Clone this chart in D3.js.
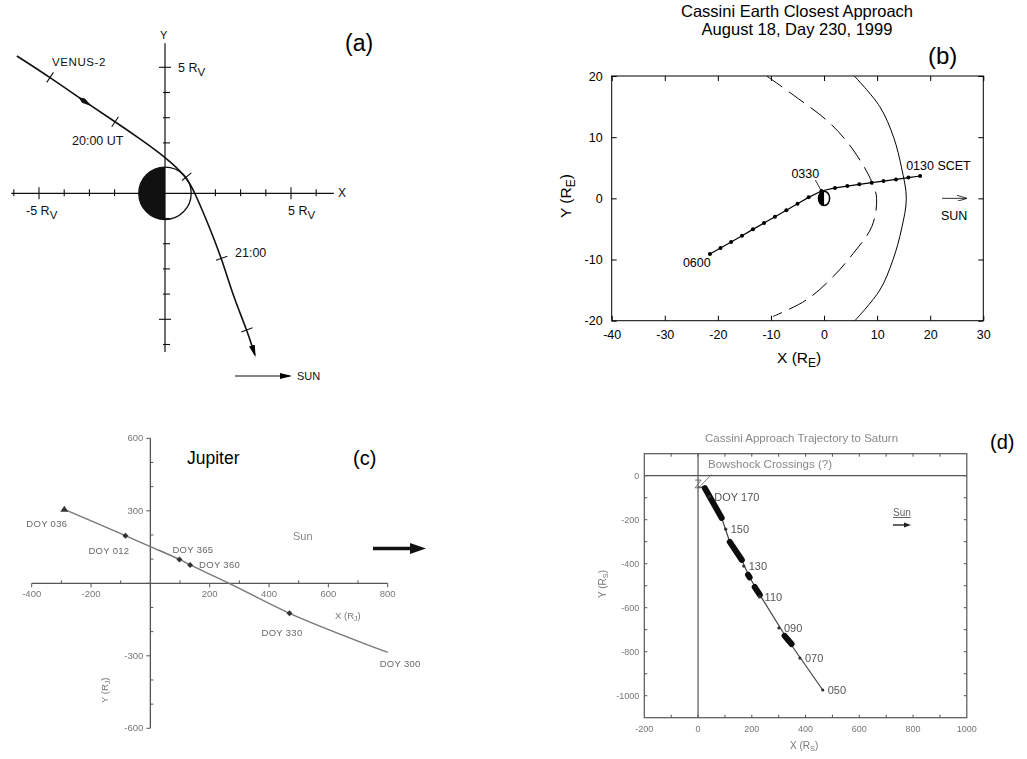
<!DOCTYPE html>
<html>
<head>
<meta charset="utf-8">
<script src="https://cdn.jsdelivr.net/npm/d3@7"></script>
<style>
body { margin: 0; background: #fff; }
svg { display: block; font-family: "Liberation Sans", Arial, sans-serif; }
</style>
</head>
<body>
<svg id="fig" width="1027" height="759"></svg>
<script>
// ---------- (a) Venus-2 flyby, units of R_V
var venusX = [-5.88, -4.56, -3.17, -1.98, -1.0, 0, 0.86, 1.19, 1.65, 2.25, 2.71, 3.25, 3.57];
var venusY = [5.45, 4.6, 3.63, 2.84, 2.17, 1.45, 0.66, 0, -1.06, -2.58, -4.1, -5.42, -6.42];
var venusMarkIdx = [1, 3, 6, 9, 11];
var venusArrowIdx = 2;
var venusXTicks = [-6, -5, -4, -3, -2, 2, 3, 4, 5, 6];
var venusYTicks = [-6, -5, -4, -3, -2, -1, 2, 3, 4, 5];

// ---------- (b) Cassini Earth flyby, units of R_E
var earthTimes = ["0130", "0145", "0200", "0215", "0230", "0245", "0300", "0315", "0330",
  "0345", "0400", "0415", "0430", "0445", "0500", "0515", "0530", "0545", "0600"];
var earthX = [18.1, 15.9, 13.55, 11.2, 8.97, 6.64, 4.38, 2.06, -0.5,
  -2.9, -5.0, -7.1, -9.24, -11.3, -13.4, -15.45, -17.5, -19.5, -21.5];
var earthY = [3.65, 3.4, 3.1, 2.83, 2.56, 2.29, 2.0, 1.7, 1.2,
  0.16, -0.87, -1.96, -3.0, -4.03, -5.07, -6.1, -7.14, -8.12, -9.1];
var bowShockX = [5.8, 10.5, 13.0, 14.6, 15.5, 14.6, 13.1, 10.5, 5.7];
var bowShockY = [-20, -15, -10, -5, 0, 5, 10, 15, 20];
var mpauseX = [-10.8, -5.8, 1.1, 5.5, 9.0, 9.9, 9.0, 5.5, 1.7, -3.3, -9.6];
var mpauseY = [20, 16.9, 12.3, 7.9, 2.7, 0, -4.6, -9, -12.8, -16.6, -19.3];
var earthXTicks = [-40, -30, -20, -10, 0, 10, 20, 30];
var earthYTicks = [-20, -10, 0, 10, 20];

// ---------- (c) Jupiter, units of R_J
var jupX = [-290, -84, 0, 98, 134, 266, 469, 800];
var jupY = [306, 197, 152, 99, 76, 0, -124, -286];
var jupDoy = ["DOY 036", "DOY 012", "", "DOY 365", "DOY 360", "", "DOY 330", "DOY 300"];
var jupXLabels = [-400, -200, 200, 400, 600, 800];
var jupYLabels = [600, 300, -300, -600];

// ---------- (d) Saturn approach, units of R_S
var satX = [0, 25, 88, 118, 163, 189, 230, 334, 464];
var satY = [-50, -56, -192, -301, -383, -456, -542, -747, -974];
var satDense = [[[25, -56], [88, -192]], [[118, -301], [163, -383]], [[186, -450], [192, -462]],
  [[211, -506], [230, -542]], [[322, -728], [348, -765]]];
var satDoy = ["DOY 170", "150", "130", "110", "090", "070", "050"];
var satDoyX = [42, 103, 170, 229, 301, 379, 464];
var satDoyY = [-95, -243, -411, -551, -692, -829, -974];
var satXLabels = [-200, 0, 200, 400, 600, 800, 1000];
var satYLabels = [0, -200, -400, -600, -800, -1000];

var svg = d3.select("#fig");
var defs = svg.append("defs");
defs.append("filter").attr("id", "soft")
  .append("feGaussianBlur").attr("stdDeviation", 0.55);
defs.append("marker").attr("id", "headA")
  .attr("viewBox", "0 0 12 6").attr("refX", 10).attr("refY", 3)
  .attr("markerWidth", 12).attr("markerHeight", 6)
  .attr("markerUnits", "userSpaceOnUse").attr("orient", "auto")
  .append("path").attr("d", "M0,0L12,3L0,6Z").attr("fill", "#000");
defs.append("marker").attr("id", "headThin")
  .attr("viewBox", "0 0 10 6").attr("refX", 9).attr("refY", 3)
  .attr("markerWidth", 10).attr("markerHeight", 6)
  .attr("markerUnits", "userSpaceOnUse").attr("orient", "auto")
  .append("path").attr("d", "M0,0L10,3L0,6").attr("fill", "none").attr("stroke", "#000").attr("stroke-width", 0.8);

function pts(xs, ys) {
  return xs.map(function (x, i) { return [x, ys[i]]; });
}

// ================= panel (a)
var xa = d3.scaleLinear().domain([-6, 6]).range([13.8, 316.2]);
var ya = d3.scaleLinear().domain([-6, 6]).range([344.5, 42.1]);
var ga = svg.append("g");
var r1 = xa(1.04) - xa(0);
ga.append("circle").attr("cx", xa(0)).attr("cy", ya(0)).attr("r", r1)
  .attr("fill", "#fff").attr("stroke", "#111").attr("stroke-width", 1.3);
ga.append("path")
  .attr("d", "M" + xa(0) + "," + (ya(0) - r1) + "A" + r1 + "," + r1 + " 0 0 0 " + xa(0) + "," + (ya(0) + r1) + "Z")
  .attr("fill", "#111");
ga.append("line").attr("x1", xa(-6.1)).attr("x2", xa(6.7)).attr("y1", ya(0)).attr("y2", ya(0))
  .attr("stroke", "#111").attr("stroke-width", 1.2);
ga.append("line").attr("x1", xa(0)).attr("x2", xa(0)).attr("y1", ya(5.95)).attr("y2", ya(-6.3))
  .attr("stroke", "#111").attr("stroke-width", 1.2);
ga.selectAll(".xt").data(venusXTicks).enter().append("line")
  .attr("x1", function (d) { return xa(d); }).attr("x2", function (d) { return xa(d); })
  .attr("y1", function (d) { return ya(0) - (Math.abs(d) === 5 ? 6 : 4); })
  .attr("y2", function (d) { return ya(0) + (Math.abs(d) === 5 ? 6 : 3); })
  .attr("stroke", "#111").attr("stroke-width", 1.1);
ga.selectAll(".yt").data(venusYTicks).enter().append("line")
  .attr("y1", function (d) { return ya(d); }).attr("y2", function (d) { return ya(d); })
  .attr("x1", function (d) { return xa(0) - (Math.abs(d) === 5 ? 6 : 2); })
  .attr("x2", function (d) { return xa(0) + (Math.abs(d) === 5 ? 6 : 5); })
  .attr("stroke", "#111").attr("stroke-width", 1.1);

var vPts = pts(venusX, venusY);
ga.append("path").datum(vPts)
  .attr("d", d3.line().x(function (d) { return xa(d[0]); }).y(function (d) { return ya(d[1]); }).curve(d3.curveBasis))
  .attr("fill", "none").attr("stroke", "#111").attr("stroke-width", 1.6)
  .attr("marker-end", "url(#headA)");
function angleAt(i) {
  var a = vPts[i - 1], b = vPts[i + 1];
  return Math.atan2(ya(b[1]) - ya(a[1]), xa(b[0]) - xa(a[0])) * 180 / Math.PI;
}
ga.selectAll(".tm").data(venusMarkIdx).enter().append("line")
  .attr("x1", 0).attr("x2", 0).attr("y1", -6).attr("y2", 6)
  .attr("transform", function (i) { return "translate(" + xa(vPts[i][0]) + "," + ya(vPts[i][1]) + ") rotate(" + angleAt(i) + ")"; })
  .attr("stroke", "#111").attr("stroke-width", 1.1);
ga.append("path").attr("d", "M-8,0L-2,-2.6L8,0L-2,2.6Z").attr("fill", "#111")
  .attr("transform", "translate(" + xa(vPts[venusArrowIdx][0]) + "," + ya(vPts[venusArrowIdx][1]) + ") rotate(" + angleAt(venusArrowIdx) + ")");

var aText = ga.append("g").attr("fill", "#111").attr("font-size", 12.5);
aText.append("text").attr("x", 52).attr("y", 66).attr("letter-spacing", 0.6).attr("font-size", 11.5).text("VENUS-2");
aText.append("text").attr("x", 72).attr("y", 145).text("20:00 UT");
aText.append("text").attr("x", 235).attr("y", 257).text("21:00");
aText.append("text").attr("x", 160).attr("y", 39).attr("font-size", 11).text("Y");
aText.append("text").attr("x", 338).attr("y", 197).attr("font-size", 12).text("X");
function rvLabel(x, y, t) {
  var tx = aText.append("text").attr("x", x).attr("y", y);
  tx.append("tspan").text(t + " R");
  tx.append("tspan").attr("dy", 4).attr("font-size", 11.5).text("V");
}
rvLabel(178, 72, "5");
rvLabel(26, 215, "-5");
rvLabel(288, 215, "5");
ga.append("line").attr("x1", 235).attr("x2", 290).attr("y1", 376).attr("y2", 376)
  .attr("stroke", "#111").attr("stroke-width", 1.2).attr("marker-end", "url(#headA)");
aText.append("text").attr("x", 297).attr("y", 380).attr("font-size", 11).text("SUN");
svg.append("text").attr("x", 345).attr("y", 51).attr("font-size", 23).text("(a)");

// ================= panel (b)
var xb = d3.scaleLinear().domain([-40, 30]).range([611.7, 983.3]);
var yb = d3.scaleLinear().domain([-20, 20]).range([320.7, 76]);
var gb = svg.append("g");
gb.append("text").attr("x", 797).attr("y", 17).attr("text-anchor", "middle").attr("font-size", 16.5)
  .text("Cassini Earth Closest Approach");
gb.append("text").attr("x", 797).attr("y", 35).attr("text-anchor", "middle").attr("font-size", 16.5)
  .text("August 18, Day 230, 1999");
gb.append("text").attr("x", 928).attr("y", 64).attr("font-size", 24).text("(b)");

function styleAxis(g) {
  g.select(".domain").remove();
  g.selectAll("line").attr("stroke", "#000");
  g.selectAll("text").attr("font-size", 12.5).attr("fill", "#000")
    .attr("font-family", "Liberation Sans, Arial, sans-serif");
}
var fmt = function (d) { return String(d); };
gb.append("g").attr("transform", "translate(0," + yb(-20) + ")")
  .call(d3.axisBottom(xb).tickValues(earthXTicks).tickFormat(fmt).tickSizeInner(-5).tickSizeOuter(0).tickPadding(9))
  .call(styleAxis);
gb.append("g").attr("transform", "translate(0," + yb(20) + ")")
  .call(d3.axisTop(xb).tickValues(earthXTicks).tickFormat("").tickSizeInner(-5).tickSizeOuter(0))
  .call(styleAxis);
gb.append("g").attr("transform", "translate(" + xb(-40) + ",0)")
  .call(d3.axisLeft(yb).tickValues(earthYTicks).tickFormat(fmt).tickSizeInner(-5).tickSizeOuter(0).tickPadding(9))
  .call(styleAxis);
gb.append("g").attr("transform", "translate(" + xb(30) + ",0)")
  .call(d3.axisRight(yb).tickValues(earthYTicks).tickFormat("").tickSizeInner(-5).tickSizeOuter(0))
  .call(styleAxis);
gb.append("rect").attr("x", xb(-40)).attr("y", yb(20)).attr("width", xb(30) - xb(-40)).attr("height", yb(-20) - yb(20))
  .attr("fill", "none").attr("stroke", "#000").attr("stroke-width", 1);
defs.append("clipPath").attr("id", "clipB").append("rect")
  .attr("x", xb(-40)).attr("y", yb(20)).attr("width", xb(30) - xb(-40)).attr("height", yb(-20) - yb(20));

var lineB = d3.line().x(function (d) { return xb(d[0]); }).y(function (d) { return yb(d[1]); });
var gclip = gb.append("g").attr("clip-path", "url(#clipB)");
gclip.append("path").datum(pts(bowShockX, bowShockY)).attr("d", lineB.curve(d3.curveCatmullRom))
  .attr("fill", "none").attr("stroke", "#000").attr("stroke-width", 1);
gclip.append("path").datum(pts(mpauseX, mpauseY)).attr("d", lineB.curve(d3.curveCatmullRom))
  .attr("fill", "none").attr("stroke", "#000").attr("stroke-width", 1).attr("stroke-dasharray", "19,8");

var ePts = pts(earthX, earthY);
gb.append("path").datum(ePts).attr("d", lineB.curve(d3.curveLinear))
  .attr("fill", "none").attr("stroke", "#000").attr("stroke-width", 1.2);
gb.selectAll(".ed").data(ePts).enter().append("circle")
  .attr("cx", function (d) { return xb(d[0]); }).attr("cy", function (d) { return yb(d[1]); })
  .attr("r", 2).attr("fill", "#000");
// Earth
var ex = xb(0), ey = yb(0), erx = 5.6, ery = 7.2;
gb.append("ellipse").attr("cx", ex).attr("cy", ey).attr("rx", erx).attr("ry", ery)
  .attr("fill", "#fff").attr("stroke", "#000").attr("stroke-width", 1.5);
gb.append("path")
  .attr("d", "M" + ex + "," + (ey - ery) + "A" + erx + "," + ery + " 0 0 0 " + ex + "," + (ey + ery) + "Z")
  .attr("fill", "#000");
var bt = gb.append("g").attr("font-size", 12.5).attr("fill", "#000");
bt.append("text").attr("x", xb(earthX[0]) - 14).attr("y", yb(earthY[0]) - 6).text(earthTimes[0] + " SCET");
bt.append("text").attr("x", xb(earthX[8]) - 30).attr("y", yb(earthY[8]) - 13).text(earthTimes[8]);
gb.append("line").attr("x1", xb(earthX[8]) - 6).attr("y1", yb(earthY[8]) - 11)
  .attr("x2", xb(earthX[8])).attr("y2", yb(earthY[8])).attr("stroke", "#000").attr("stroke-width", 0.8);
bt.append("text").attr("x", xb(earthX[18]) - 27).attr("y", yb(earthY[18]) + 13).text(earthTimes[18]);
gb.append("line").attr("x1", 942).attr("x2", 966).attr("y1", yb(0)).attr("y2", yb(0))
  .attr("stroke", "#000").attr("stroke-width", 0.8).attr("marker-end", "url(#headThin)");
bt.append("text").attr("x", 941).attr("y", 220).text("SUN");
var xl = gb.append("text").attr("x", 777).attr("y", 363).attr("font-size", 15.5);
xl.append("tspan").text("X (R");
xl.append("tspan").attr("dy", 4).attr("font-size", 12).text("E");
xl.append("tspan").attr("dy", -4).text(")");
var yl = gb.append("text").attr("transform", "translate(571,218) rotate(-90)").attr("font-size", 15.5);
yl.append("tspan").text("Y (R");
yl.append("tspan").attr("dy", 4).attr("font-size", 12).text("E");
yl.append("tspan").attr("dy", -4).text(")");

// ================= panel (c)
var xc = d3.scaleLinear().domain([-400, 800]).range([31.7, 387.7]);
var yc = d3.scaleLinear().domain([-600, 600]).range([728.3, 438.3]);
var gc = svg.append("g").attr("filter", "url(#soft)");
var cGrey = "#555";
gc.append("line").attr("x1", xc(-400)).attr("x2", xc(800)).attr("y1", yc(0)).attr("y2", yc(0))
  .attr("stroke", cGrey).attr("stroke-width", 1.3);
gc.append("line").attr("x1", xc(0)).attr("x2", xc(0)).attr("y1", yc(600)).attr("y2", yc(-600))
  .attr("stroke", cGrey).attr("stroke-width", 1.3);
gc.selectAll(".cxt").data(d3.range(-400, 801, 100)).enter().append("line")
  .attr("x1", function (d) { return xc(d); }).attr("x2", function (d) { return xc(d); })
  .attr("y1", function (d) { return yc(0) - (d % 200 === 0 ? 0 : 3); })
  .attr("y2", function (d) { return yc(0) + (d % 200 === 0 ? 4 : 0); })
  .attr("stroke", cGrey);
gc.selectAll(".cyt").data(d3.range(-600, 601, 100)).enter().append("line")
  .attr("y1", function (d) { return yc(d); }).attr("y2", function (d) { return yc(d); })
  .attr("x1", function (d) { return xc(0) - (d % 300 === 0 ? 4 : 0); })
  .attr("x2", function (d) { return xc(0) + (d % 300 === 0 ? 0 : 3); })
  .attr("stroke", cGrey);
gc.selectAll(".cxl").data(jupXLabels).enter().append("text")
  .attr("x", function (d) { return xc(d); }).attr("y", yc(0) + 14)
  .attr("text-anchor", "middle").attr("font-size", 9.5).attr("fill", "#777").text(fmt);
gc.selectAll(".cyl").data(jupYLabels).enter().append("text")
  .attr("x", xc(0) - 7).attr("y", function (d) { return yc(d) + 3; })
  .attr("text-anchor", "end").attr("font-size", 9.5).attr("fill", "#777").text(fmt);

var jPts = pts(jupX, jupY);
gc.append("path").datum(jPts)
  .attr("d", d3.line().x(function (d) { return xc(d[0]); }).y(function (d) { return yc(d[1]); }).curve(d3.curveCatmullRom))
  .attr("fill", "none").attr("stroke", "#777").attr("stroke-width", 1.4);
var jMarks = [1, 3, 4, 6];
gc.selectAll(".jd").data(jMarks).enter().append("path")
  .attr("d", "M-3,0L0,-3L3,0L0,3Z")
  .attr("transform", function (i) { return "translate(" + xc(jupX[i]) + "," + yc(jupY[i]) + ")"; })
  .attr("fill", "#333");
gc.append("path").attr("d", "M-4,2.5L0,-3.5L4,2.5Z")
  .attr("transform", "translate(" + xc(jupX[0]) + "," + yc(jupY[0]) + ")").attr("fill", "#333");
var jOff = [[3, 15, "end"], [4, 15, "end"], null, [-7, -9, "start"], [9, 0, "start"], null, [-28, 20, "start"], [-8, 12, "start"]];
jPts.forEach(function (p, i) {
  if (!jupDoy[i]) return;
  gc.append("text").attr("x", xc(p[0]) + jOff[i][0]).attr("y", yc(p[1]) + jOff[i][1] + 3)
    .attr("text-anchor", jOff[i][2]).attr("font-size", 9.5).attr("letter-spacing", 0.3)
    .attr("fill", "#666").text(jupDoy[i]);
});
gc.append("text").attr("x", 293).attr("y", 540).attr("font-size", 11).attr("fill", "#888").text("Sun");
var cx1 = gc.append("text").attr("x", 335).attr("y", 619).attr("font-size", 9.5).attr("fill", "#777");
cx1.append("tspan").text("X (R");
cx1.append("tspan").attr("dy", 2).attr("font-size", 7).text("J");
cx1.append("tspan").attr("dy", -2).text(")");
var cy1 = gc.append("text").attr("transform", "translate(108,703) rotate(-90)").attr("font-size", 9.5).attr("fill", "#777");
cy1.append("tspan").text("Y (R");
cy1.append("tspan").attr("dy", 2).attr("font-size", 7).text("J");
cy1.append("tspan").attr("dy", -2).text(")");
svg.append("line").attr("x1", 373).attr("x2", 412).attr("y1", 548.5).attr("y2", 548.5)
  .attr("stroke", "#111").attr("stroke-width", 3.5);
svg.append("path").attr("d", "M410,543L426,548.5L410,554Z").attr("fill", "#111");
svg.append("text").attr("x", 187).attr("y", 464).attr("font-size", 17.5).text("Jupiter");
svg.append("text").attr("x", 353).attr("y", 465).attr("font-size", 20).text("(c)");

// ================= panel (d)
var xd = d3.scaleLinear().domain([-200, 1000]).range([644.3, 966.8]);
var yd = d3.scaleLinear().domain([-1100, 100]).range([717.7, 453.7]);
var gd = svg.append("g").attr("filter", "url(#soft)");
var dGrey = "#555";
gd.append("rect").attr("x", xd(-200)).attr("y", yd(100)).attr("width", xd(1000) - xd(-200)).attr("height", yd(-1100) - yd(100))
  .attr("fill", "none").attr("stroke", dGrey).attr("stroke-width", 1.2);
gd.append("line").attr("x1", xd(-200)).attr("x2", xd(1000)).attr("y1", yd(0)).attr("y2", yd(0))
  .attr("stroke", dGrey).attr("stroke-width", 1.2);
gd.append("line").attr("x1", xd(0)).attr("x2", xd(0)).attr("y1", yd(100)).attr("y2", yd(-1100))
  .attr("stroke", dGrey).attr("stroke-width", 1.2);
gd.selectAll(".dxt").data(d3.range(-100, 1000, 100)).enter().append("g").each(function (d) {
  d3.select(this).append("line").attr("x1", xd(d)).attr("x2", xd(d)).attr("y1", yd(-1100)).attr("y2", yd(-1100) - 3).attr("stroke", dGrey);
  d3.select(this).append("line").attr("x1", xd(d)).attr("x2", xd(d)).attr("y1", yd(100)).attr("y2", yd(100) + 3).attr("stroke", dGrey);
});
gd.selectAll(".dyt").data(d3.range(-1000, 100, 100)).enter().append("g").each(function (d) {
  d3.select(this).append("line").attr("y1", yd(d)).attr("y2", yd(d)).attr("x1", xd(-200)).attr("x2", xd(-200) + 3).attr("stroke", dGrey);
  d3.select(this).append("line").attr("y1", yd(d)).attr("y2", yd(d)).attr("x1", xd(1000)).attr("x2", xd(1000) - 3).attr("stroke", dGrey);
});
gd.selectAll(".dxl").data(satXLabels).enter().append("text")
  .attr("x", function (d) { return xd(d); }).attr("y", yd(-1100) + 14)
  .attr("text-anchor", "middle").attr("font-size", 9).attr("fill", "#777").text(fmt);
gd.selectAll(".dyl").data(satYLabels).enter().append("text")
  .attr("x", xd(-200) - 5).attr("y", function (d) { return yd(d) + 3; })
  .attr("text-anchor", "end").attr("font-size", 9).attr("fill", "#777").text(fmt);

var lineD = d3.line().x(function (d) { return xd(d[0]); }).y(function (d) { return yd(d[1]); });
gd.append("path").datum(pts(satX, satY)).attr("d", lineD)
  .attr("fill", "none").attr("stroke", "#444").attr("stroke-width", 1.2);
gd.selectAll(".dense").data(satDense).enter().append("path").attr("d", lineD)
  .attr("fill", "none").attr("stroke", "#111").attr("stroke-width", 6).attr("stroke-linecap", "round");
gd.selectAll(".sd").data(satDoyX).enter().append("circle")
  .attr("cx", function (d) { return xd(d); }).attr("cy", function (d, i) { return yd(satDoyY[i]); })
  .attr("r", 1.6).attr("fill", "#333");
gd.selectAll(".sl").data(satDoy).enter().append("text")
  .attr("x", function (d, i) { return xd(satDoyX[i]) + 5; })
  .attr("y", function (d, i) { return yd(satDoyY[i]) + 4; })
  .attr("font-size", 11).attr("fill", "#555").text(function (d) { return d; });
gd.append("path").attr("d", "M" + (xd(0) - 3) + "," + (yd(-20)) + "L" + (xd(0) + 3) + "," + (yd(-20)) + "L" + (xd(0) - 3) + "," + (yd(-55)) + "L" + (xd(0) + 3) + "," + (yd(-55)))
  .attr("fill", "none").attr("stroke", "#555").attr("stroke-width", 0.8);
gd.append("line").attr("x1", xd(10)).attr("y1", yd(-45)).attr("x2", xd(50)).attr("y2", yd(5))
  .attr("stroke", "#555").attr("stroke-width", 0.8);
gd.append("text").attr("x", 708).attr("y", 468).attr("font-size", 11.5).attr("fill", "#888").text("Bowshock Crossings (?)");
gd.append("text").attr("x", 705).attr("y", 442).attr("font-size", 11.5).attr("fill", "#888").text("Cassini Approach Trajectory to Saturn");
gd.append("text").attr("x", 893).attr("y", 516).attr("font-size", 10).attr("fill", "#666").attr("text-decoration", "underline").text("Sun");
gd.append("line").attr("x1", 893).attr("x2", 906).attr("y1", 525).attr("y2", 525).attr("stroke", "#222").attr("stroke-width", 1.4);
gd.append("path").attr("d", "M904,522.5L911,525L904,527.5Z").attr("fill", "#222");
var dx1 = gd.append("text").attr("x", 790).attr("y", 749).attr("font-size", 10).attr("fill", "#777");
dx1.append("tspan").text("X (R");
dx1.append("tspan").attr("dy", 2).attr("font-size", 7.5).text("S");
dx1.append("tspan").attr("dy", -2).text(")");
var dy1 = gd.append("text").attr("transform", "translate(606,598) rotate(-90)").attr("font-size", 10).attr("fill", "#777");
dy1.append("tspan").text("Y (R");
dy1.append("tspan").attr("dy", 2).attr("font-size", 7.5).text("S");
dy1.append("tspan").attr("dy", -2).text(")");
svg.append("text").attr("x", 990).attr("y", 449).attr("font-size", 20).text("(d)");
</script>
</body>
</html>
